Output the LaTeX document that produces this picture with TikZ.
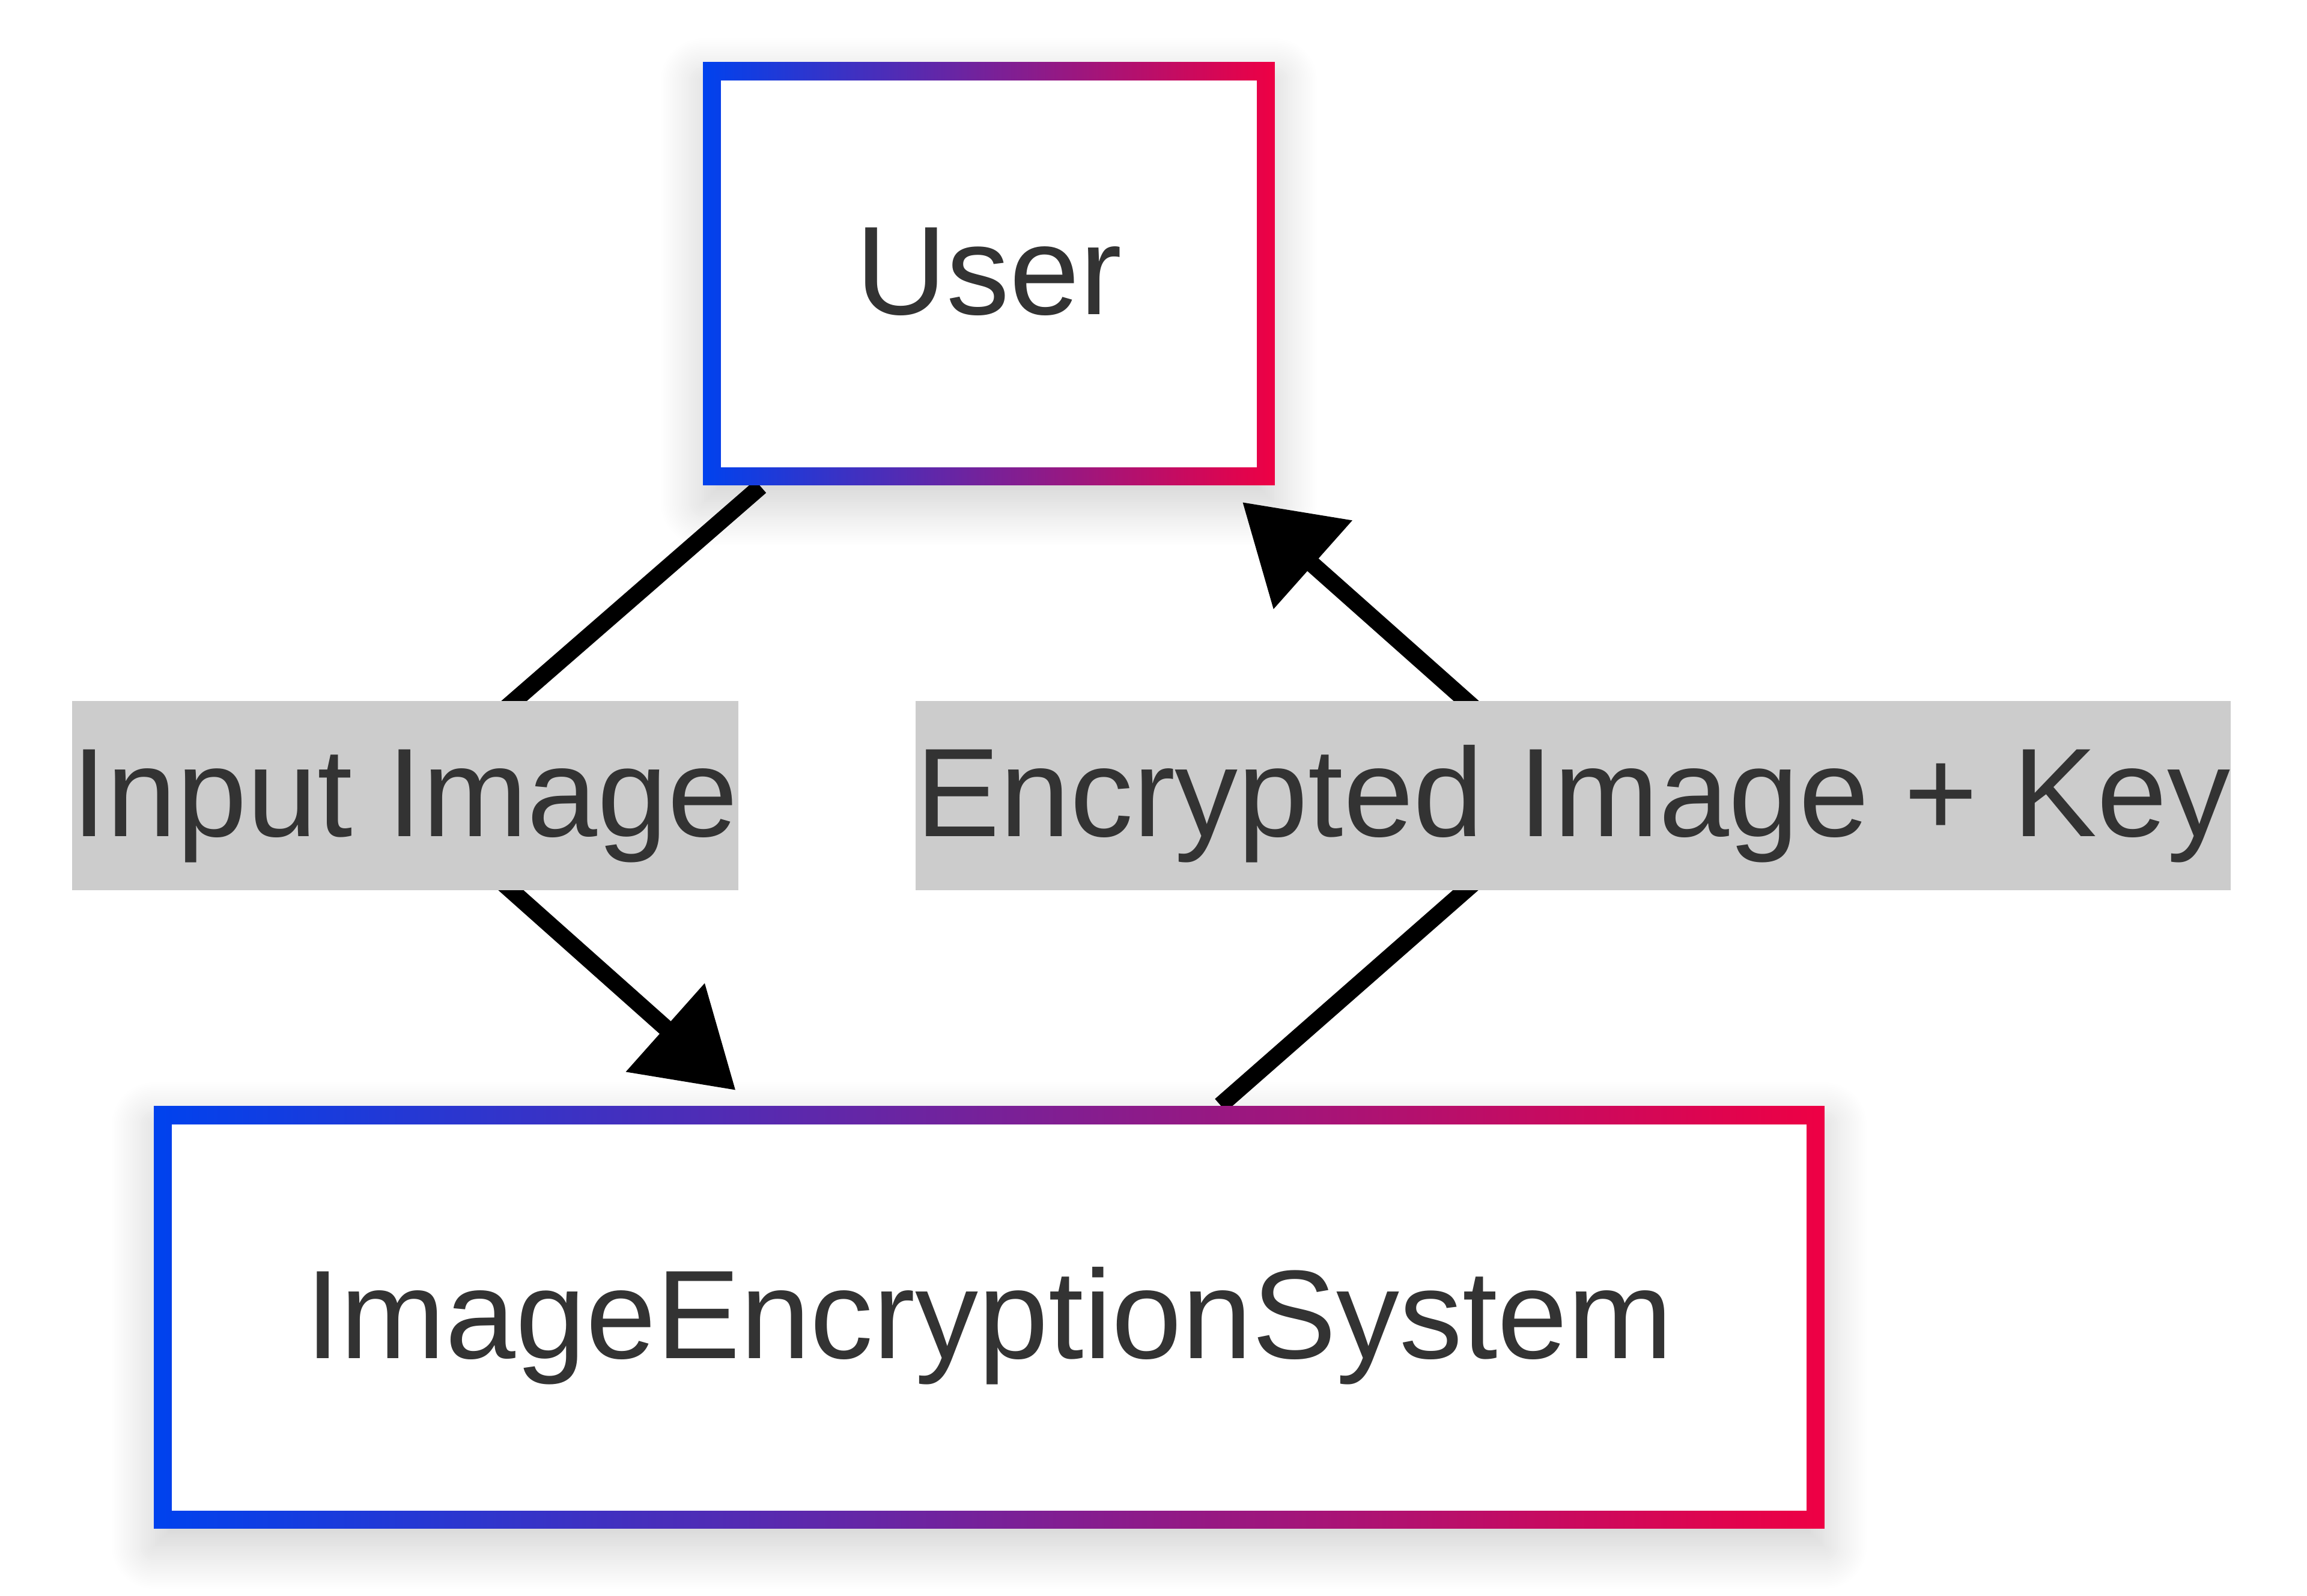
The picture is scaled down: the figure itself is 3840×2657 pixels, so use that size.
\documentclass[tikz,border=0pt]{standalone}
\usepackage{fontspec}
\setmainfont{Liberation Sans}
\usetikzlibrary{arrows.meta,shadows.blur,backgrounds,calc}
\definecolor{GBlue}{HTML}{0042EE}
\definecolor{GRed}{HTML}{EE0044}
\definecolor{TxtGrey}{HTML}{333333}
\definecolor{LblGrey}{HTML}{CCCCCC}
\tikzset{
  actor/.style={shade, left color=GBlue, right color=GRed, inner sep=0pt, text=TxtGrey,
    font=\fontsize{21pt}{31.5pt}\selectfont, text height=22.55pt, text depth=8.95pt,
    blur shadow={shadow xshift=0pt, shadow yshift=-3pt, shadow blur radius=7pt,
      shadow blur steps=24, shadow opacity=20},
    path picture={\fill[white] ([shift={(3pt,3pt)}]path picture bounding box.south west)
      rectangle ([shift={(-3pt,-3pt)}]path picture bounding box.north east);}},
  flowlabel/.style={fill=LblGrey, inner sep=0pt, text=TxtGrey,
    font=\fontsize{21pt}{31.5pt}\selectfont, text height=22.55pt, text depth=8.95pt},
  flow/.style={line width=2.8pt, -{Triangle[length=15.7pt,width=19pt]}}
}
\begin{document}
\begin{tikzpicture}[x=0.1pt,y=-0.1pt]
  \useasboundingbox (0,0) rectangle (3840,2657);
  % boxes
  \node[actor, minimum width=95.2pt, minimum height=70.4pt] (user) at (1646,456) {User};
  \node[actor, minimum width=278.1pt, minimum height=70.3pt] (ies) at (1646.5,2193.5) {ImageEncryptionSystem};
  % edge labels
  \node[flowlabel] (inLbl) at (674,1325) {Input Image};
  \node[flowlabel] (encLbl) at (2618.5,1325) {Encrypted Image + Key};
  \coordinate (inStart) at ([xshift=-38pt]user.south);
  \coordinate (inEnd) at ([xshift=-42.2pt,yshift=2.5pt]ies.north);
  \coordinate (encStart) at ([xshift=38.5pt]ies.north);
  \coordinate (encEnd) at ([xshift=42.2pt,yshift=-2.6pt]user.south);
  \begin{pgfonlayer}{background}
    \foreach \s/\m/\e in {inStart/inLbl/inEnd, encStart/encLbl/encEnd}
    {
      \draw[flow] (\s) -- (\m.center) -- (\e);
    }
  \end{pgfonlayer}
\end{tikzpicture}
\end{document}
